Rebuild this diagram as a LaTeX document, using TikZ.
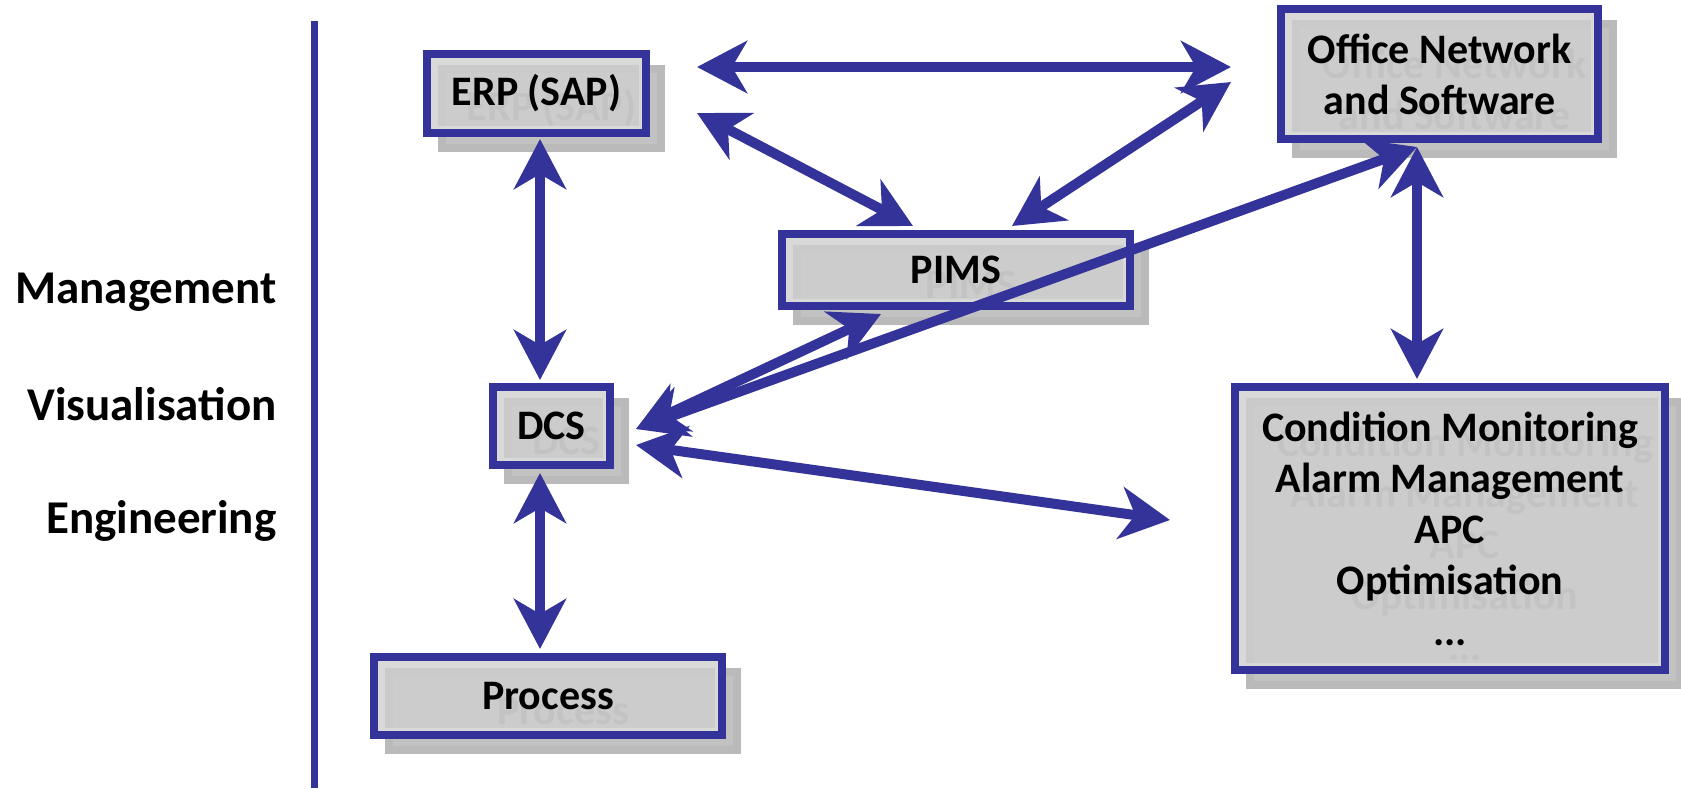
\documentclass[tikz,border=0pt]{standalone}
\usepackage{fontspec}
\setmainfont{Carlito}
\usetikzlibrary{arrows.meta}
\definecolor{linkblue}{RGB}{51,51,153}

\begin{document}
\begin{tikzpicture}[x=1pt,y=-1pt,
  box/.style={draw=linkblue,line width=8pt,fill=black!19,fill opacity=0.8,text opacity=1,
    inner sep=0pt,align=center,font=\fontsize{42}{51}\selectfont\bfseries,
    path picture={\draw[black!15,line width=14pt] (path picture bounding box.south west) rectangle (path picture bounding box.north east);}},
  ghost/.style={draw=black!27,line width=8pt,fill=black!24,text=black!42,
    inner sep=0pt,align=center,font=\fontsize{42}{51}\selectfont\bfseries},
  link/.style={linkblue,line width=10pt,
    {Stealth[length=50pt,width=52pt,inset=15pt]}-{Stealth[length=50pt,width=52pt,inset=15pt]}},
  level/.style={anchor=base east,font=\fontsize{47}{56}\selectfont\bfseries}]
\useasboundingbox (0,0) rectangle (1681,788);

% shadows
\node[ghost,minimum width=219pt,minimum height=79pt] (erp-sh) at (551.5,108.5) {ERP (SAP)};
\node[ghost,minimum width=317pt,minimum height=130pt] (office-sh) at (1454.5,89) {Office Network\\and Software};
\node[ghost,minimum width=348pt,minimum height=72pt] (pims-sh) at (971,285) {PIMS};
\node[ghost,minimum width=117pt,minimum height=78pt] (dcs-sh) at (566.5,441) {DCS};
\node[ghost,minimum width=348pt,minimum height=78pt] (process-sh) at (563,711) {Process};
\node[ghost,minimum width=430pt,minimum height=283pt] (cond-sh) at (1465,543.5)
  {Condition Monitoring\\Alarm Management\\APC\\Optimisation\\...};

% boxes
\node[box,minimum width=219pt,minimum height=79pt] (erp) at (536.5,93.5) {ERP (SAP)};
\node[box,minimum width=317pt,minimum height=130pt] (office) at (1439.5,74) {Office Network\\and Software};
\node[box,minimum width=348pt,minimum height=72pt] (pims) at (956,270) {PIMS};
\node[box,minimum width=117pt,minimum height=78pt] (dcs) at (551.5,426) {DCS};
\node[box,minimum width=348pt,minimum height=78pt] (process) at (548,696) {Process};
\node[box,minimum width=430pt,minimum height=283pt] (cond) at (1450,528.5)
  {Condition Monitoring\\Alarm Management\\APC\\Optimisation\\...};

% links
\draw[link] ([shift={(47,-26.5)}]erp.east) -- ([shift={(-46,-7)}]office.west);
\draw[link] ([shift={(47,19.5)}]erp.east) -- ([shift={(-43,-4)}]pims.north);
\draw[link] ([shift={(-46,8)}]office.west) -- ([shift={(56,-4)}]pims.north);
\draw[link] ([shift={(-22.5,4)}]office.south) -- ([shift={(22,3)}]dcs.east);
\draw[link] ([shift={(-75,4)}]pims.south) -- ([shift={(22,3)}]dcs.east);
\draw[link] ([shift={(22,19)}]dcs.east) -- ([shift={(-61,-8.5)}]cond.west);
\draw[link] ([shift={(3.5,2)}]erp.south) -- ([shift={(-11.5,-3)}]dcs.north);
\draw[link] ([shift={(-11.5,4)}]dcs.south) -- ([shift={(-8,-4)}]process.north);
\draw[link] ([shift={(-22.5,4)}]office.south) -- ([shift={(-33,-4)}]cond.north);

% levels
\node[level] (mgmt) at (280,303) {Management};
\node[level] (vis) at (280,420) {Visualisation};
\node[level] (eng) at (280,533) {Engineering};
\draw[linkblue,line width=7pt] (314,21) -- (314,788);
\end{tikzpicture}
\end{document}
